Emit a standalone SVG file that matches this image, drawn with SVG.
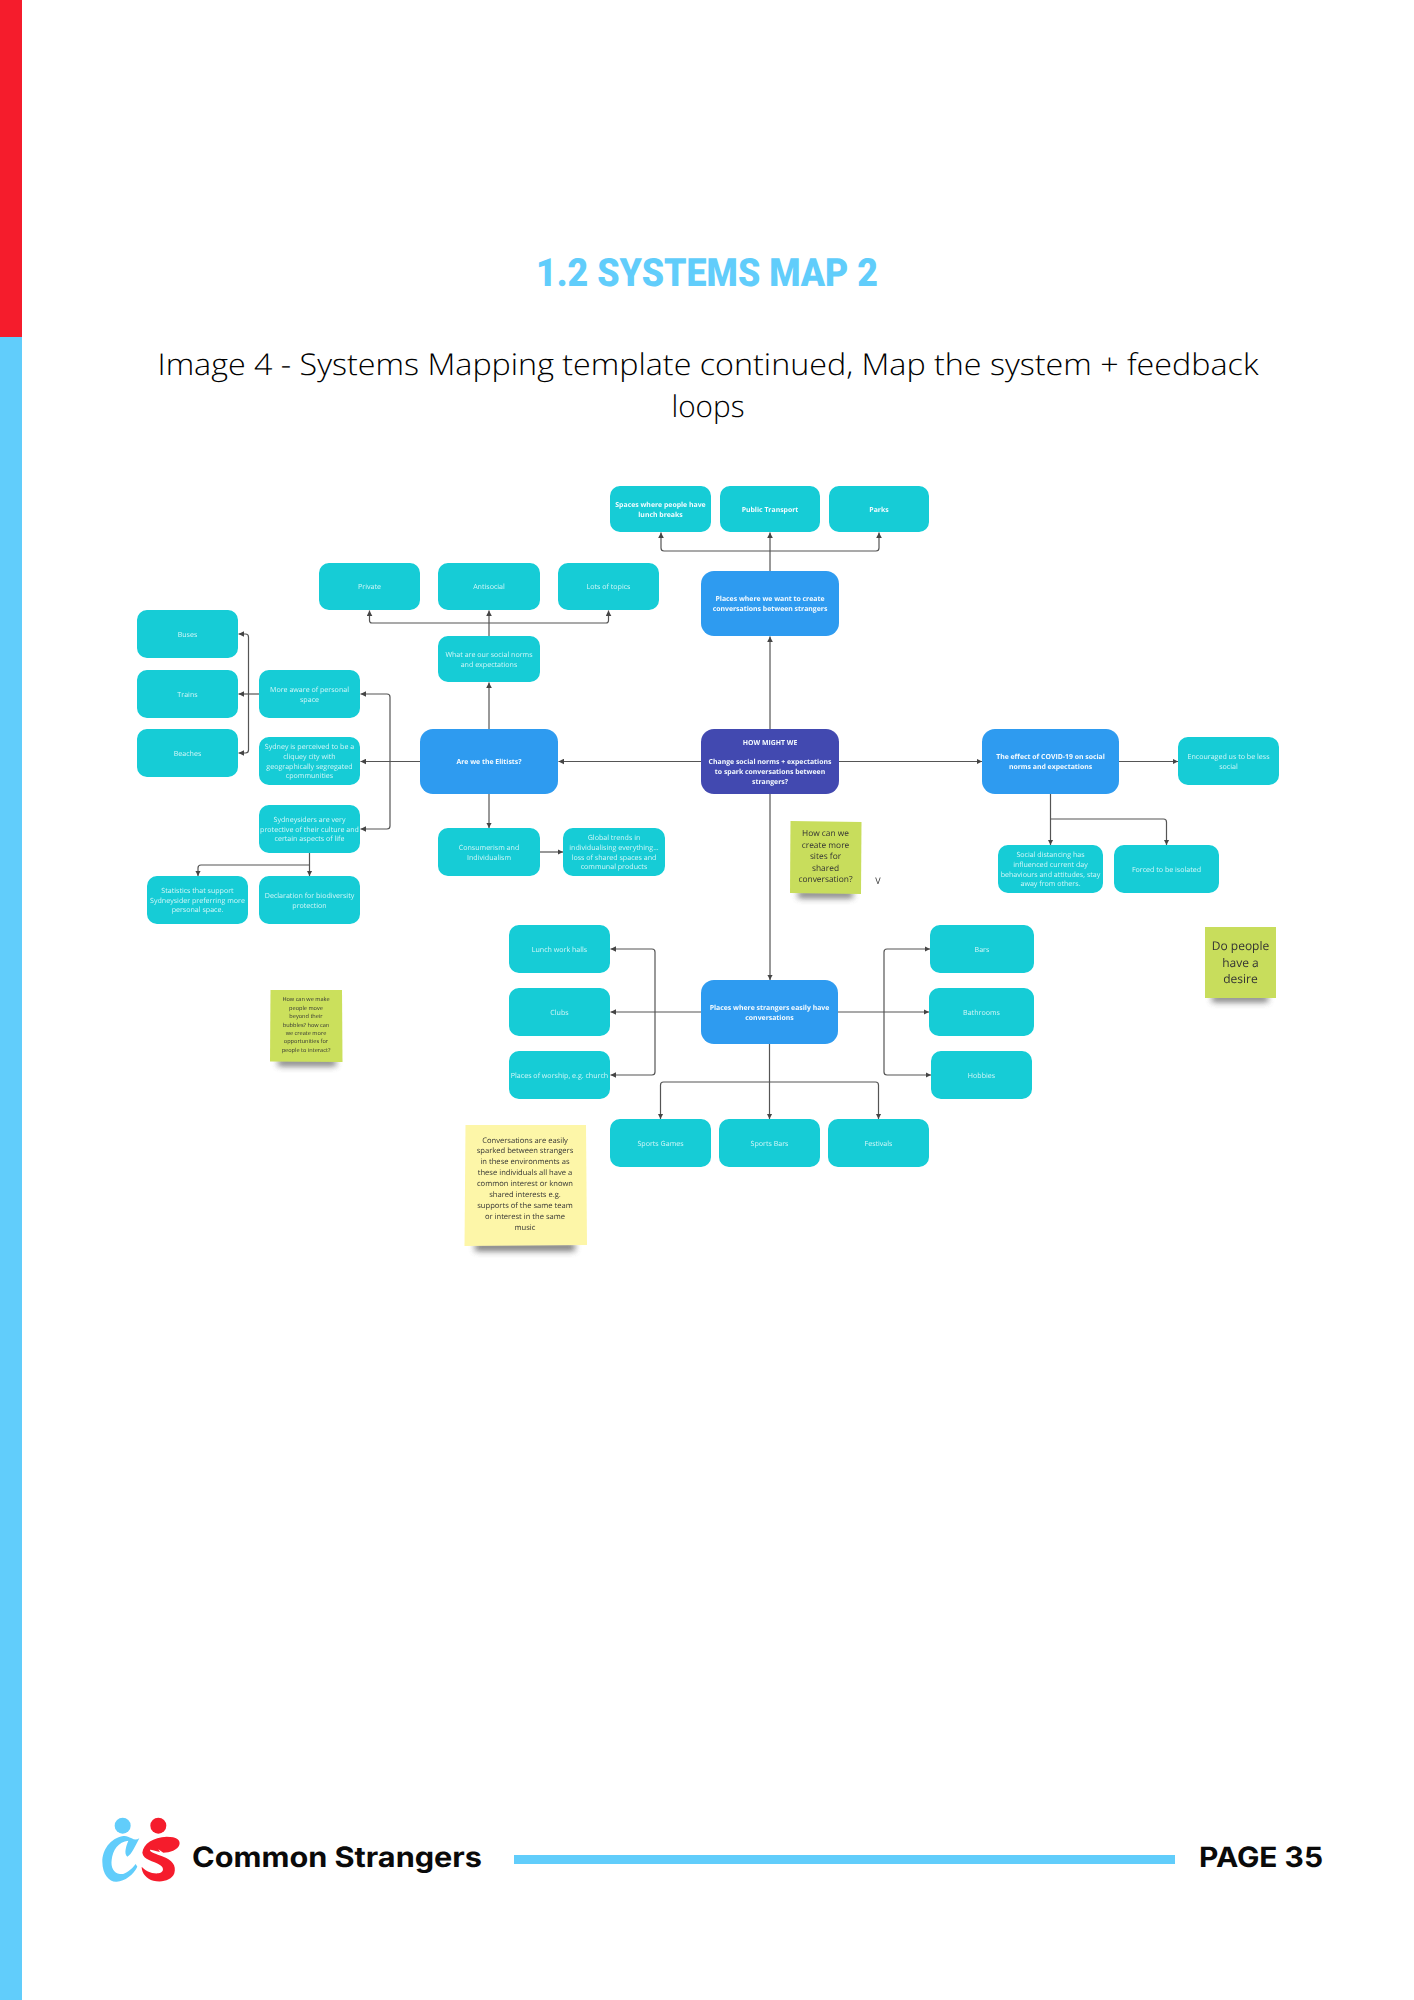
<svg xmlns="http://www.w3.org/2000/svg" width="1414" height="2000" viewBox="0 0 1414 2000">
<style>
text{text-anchor:middle;font-family:"Open Sans","Noto Sans","Liberation Sans",sans-serif;text-rendering:geometricPrecision}
.c rect{fill:#12ccd6}
.b rect{fill:#2e9bf0}
.i rect{fill:#4349b0}
.c text{fill:#d8f7f8;font-size:7.1px}
.b text,.i text,.w text{fill:#f4fbff;font-size:6.9px;font-weight:700}
.w rect{fill:#12ccd6}
.n{fill:#333}
.l{fill:none;stroke:#555;stroke-width:1.2}
.a{marker-end:url(#arr)}
.sh{fill:#555;opacity:.8}
</style>
<defs>
<marker id="arr" markerUnits="userSpaceOnUse" markerWidth="6" markerHeight="6" refX="5.5" refY="3" orient="auto"><path d="M0 0.2L5.5 3L0 5.8Z" fill="#444"/></marker>
<filter id="soft" filterUnits="userSpaceOnUse" x="100" y="460" width="1220" height="820"><feGaussianBlur stdDeviation="0.35"/></filter>
<filter id="shb" x="-30%" y="-300%" width="160%" height="700%"><feGaussianBlur stdDeviation="3.2"/></filter>
</defs>
<rect width="1414" height="2000" fill="#fff"/>
<rect x="0" y="337" width="22" height="1663" fill="#61cdfb"/>
<rect x="0" y="0" width="22" height="337" fill="#f51c2c"/>
<text x="707" y="286" style="font-family:Roboto,'Liberation Sans',sans-serif;font-weight:900;font-size:39px;fill:#61cdfb" textLength="342" lengthAdjust="spacingAndGlyphs">1.2 SYSTEMS MAP 2</text>
<text x="708" y="375" style="font-weight:300;font-size:30px;fill:#000" textLength="1101" lengthAdjust="spacingAndGlyphs">Image 4 - Systems Mapping template continued, Map the system + feedback</text>
<text x="708" y="417" style="font-weight:300;font-size:30px;fill:#000" textLength="73" lengthAdjust="spacingAndGlyphs">loops</text>
<g filter="url(#soft)">
<g id="connectors">
<path class="l a" d="M489 636V610.5"/>
<path class="l a" d="M489 623H372Q369.500 623 369.500 620.500V610.500"/>
<path class="l a" d="M489 623H606Q608.500 623 608.500 620.500V610.500"/>
<path class="l a" d="M489 729V682.500"/>
<path class="l a" d="M701 761.500H558.500"/>
<path class="l a" d="M489 794V828"/>
<path class="l a" d="M540 852H563"/>
<path class="l a" d="M420 761.500H360.500"/>
<path class="l a" d="M390 761.500V697Q390 694 387 694H360.500"/>
<path class="l a" d="M390 761.500V826Q390 829 387 829H360.500"/>
<path class="l a" d="M259 694H238.500"/>
<path class="l a" d="M248.500 694V637Q248.500 634 245.500 634H238.500"/>
<path class="l a" d="M248.500 694V750Q248.500 753 245.500 753H238.500"/>
<path class="l a" d="M309.500 853V876"/>
<path class="l a" d="M309.500 865H201Q198 865 198 868V876"/>
<path class="l a" d="M770 729V636.500"/>
<path class="l a" d="M770 571V532.500"/>
<path class="l a" d="M770 551H664Q661 551 661 548V532.500"/>
<path class="l a" d="M770 551H876Q879 551 879 548V532.500"/>
<path class="l a" d="M839 761.500H982"/>
<path class="l a" d="M1119 761.500H1178"/>
<path class="l a" d="M1050.500 794V845"/>
<path class="l a" d="M1050.500 819H1163.500Q1166.500 819 1166.500 822V845"/>
<path class="l a" d="M770 794V980"/>
<path class="l a" d="M701 1012H610.500"/>
<path class="l a" d="M655 1012V952Q655 949 652 949H610.500"/>
<path class="l a" d="M655 1012V1072Q655 1075 652 1075H610.500"/>
<path class="l a" d="M838 1012H929"/>
<path class="l a" d="M884 1012V952Q884 949 887 949H930"/>
<path class="l a" d="M884 1012V1072Q884 1075 887 1075H931"/>
<path class="l a" d="M769.500 1044V1119"/>
<path class="l a" d="M769.500 1082H663.500Q660.500 1082 660.500 1085V1119"/>
<path class="l a" d="M769.500 1082H875.500Q878.500 1082 878.500 1085V1119"/>
</g>
<g id="private" class="c"><rect x="319" y="563" width="101" height="47" rx="10"/><text x="369.500" y="589">Private</text></g>
<g id="antisocial" class="c"><rect x="438" y="563" width="102" height="47" rx="10"/><text x="489" y="589">Antisocial</text></g>
<g id="lots" class="c"><rect x="558" y="563" width="101" height="47" rx="10"/><text x="608.500" y="589">Lots of topics</text></g>
<g id="norms" class="c"><rect x="438" y="636" width="102" height="46" rx="10"/><text x="489" y="656.900">What are our social norms</text><text x="489" y="666.600">and expectations</text></g>
<g id="buses" class="c"><rect x="137" y="610" width="101" height="48" rx="10"/><text x="187.500" y="636.700">Buses</text></g>
<g id="trains" class="c"><rect x="137" y="670" width="101" height="48" rx="10"/><text x="187.500" y="696.700">Trains</text></g>
<g id="beaches" class="c"><rect x="137" y="729" width="101" height="48" rx="10"/><text x="187.500" y="755.700">Beaches</text></g>
<g id="aware" class="c"><rect x="259" y="670" width="101" height="48" rx="10"/><text x="309.500" y="691.900">More aware of personal</text><text x="309.500" y="701.600">space</text></g>
<g id="cliquey" class="c"><rect x="259" y="737" width="101" height="48" rx="10"/><text x="309.500" y="749.200">Sydney is perceived to be a</text><text x="309.500" y="758.900">cliquey city with</text><text x="309.500" y="768.600">geographically segregated</text><text x="309.500" y="778.300">cpommunities</text></g>
<g id="protective" class="c"><rect x="259" y="805" width="101" height="48" rx="10"/><text x="309.500" y="822">Sydneysiders are very</text><text x="309.500" y="831.700">protective of their culture and</text><text x="309.500" y="841.400">certain aspects of life</text></g>
<g id="statistics" class="c"><rect x="147" y="876" width="101" height="48" rx="10"/><text x="197.500" y="893">Statistics that support</text><text x="197.500" y="902.700">Sydneysider preferring more</text><text x="197.500" y="912.400">personal space.</text></g>
<g id="declaration" class="c"><rect x="259" y="876" width="101" height="48" rx="10"/><text x="309.500" y="897.900">Declaration for biodiversity</text><text x="309.500" y="907.600">protection</text></g>
<g id="elitists" class="b"><rect x="420" y="729" width="138" height="65" rx="13"/><text x="489" y="764.200">Are we the Elitists?</text></g>
<g id="consumerism" class="c"><rect x="438" y="828" width="102" height="48" rx="10"/><text x="489" y="849.900">Consumerism and</text><text x="489" y="859.600">Individualism</text></g>
<g id="global" class="c"><rect x="563" y="828" width="102" height="48" rx="10"/><text x="614" y="840.200">Global trends in</text><text x="614" y="849.900">individualising everything...</text><text x="614" y="859.600">loss of shared spaces and</text><text x="614" y="869.300">communal products</text></g>
<g id="spaces" class="w"><rect x="610" y="486" width="101" height="46" rx="10"/><text x="660.500" y="506.900">Spaces where people have</text><text x="660.500" y="516.600">lunch breaks</text></g>
<g id="transport" class="w"><rect x="720" y="486" width="100" height="46" rx="10"/><text x="770" y="511.700">Public Transport</text></g>
<g id="parks" class="w"><rect x="829" y="486" width="100" height="46" rx="10"/><text x="879" y="511.700">Parks</text></g>
<g id="want" class="b"><rect x="701" y="571" width="138" height="65" rx="13"/><text x="770" y="601">Places where we want to create</text><text x="770" y="610.700">conversations between strangers</text></g>
<g id="hmw" class="i"><rect x="701" y="729" width="138" height="65" rx="13"/><text x="770" y="744.700">HOW MIGHT WE</text><text x="770" y="764.400">Change social norms + expectations</text><text x="770" y="774.100">to spark conversations between</text><text x="770" y="783.800">strangers?</text></g>
<g id="covid" class="b"><rect x="982" y="729" width="137" height="65" rx="13"/><text x="1050.500" y="759.400">The effect of COVID-19 on social</text><text x="1050.500" y="769.100">norms and expectations</text></g>
<g id="encouraged" class="c"><rect x="1178" y="737" width="101" height="48" rx="10"/><text x="1228.500" y="758.900">Encouraged us to be less</text><text x="1228.500" y="768.600">social</text></g>
<g id="distancing" class="c"><rect x="998" y="845" width="105" height="48" rx="10"/><text x="1050.500" y="857.200">Social distancing has</text><text x="1050.500" y="866.900">influenced current day</text><text x="1050.500" y="876.600">behaviours and attitudes, stay</text><text x="1050.500" y="886.300">away from others.</text></g>
<g id="isolated" class="c"><rect x="1114" y="845" width="105" height="48" rx="10"/><text x="1166.500" y="871.700">Forced to be isolated</text></g>
<g id="lunch" class="c"><rect x="509" y="925" width="101" height="48" rx="10"/><text x="559.500" y="951.700">Lunch work halls</text></g>
<g id="clubs" class="c"><rect x="509" y="988" width="101" height="48" rx="10"/><text x="559.500" y="1014.700">Clubs</text></g>
<g id="worship" class="c"><rect x="509" y="1051" width="101" height="48" rx="10"/><text x="559.500" y="1077.700">Places of worship, e.g. church</text></g>
<g id="easily" class="b"><rect x="701" y="980" width="137" height="64" rx="13"/><text x="769.500" y="1009.900">Places where strangers easily have</text><text x="769.500" y="1019.600">conversations</text></g>
<g id="bars" class="c"><rect x="930" y="925" width="104" height="48" rx="10"/><text x="982" y="951.700">Bars</text></g>
<g id="bathrooms" class="c"><rect x="929" y="988" width="105" height="48" rx="10"/><text x="981.500" y="1014.700">Bathrooms</text></g>
<g id="hobbies" class="c"><rect x="931" y="1051" width="101" height="48" rx="10"/><text x="981.500" y="1077.700">Hobbies</text></g>
<g id="games" class="c"><rect x="610" y="1119" width="101" height="48" rx="10"/><text x="660.500" y="1145.700">Sports Games</text></g>
<g id="sportsbars" class="c"><rect x="719" y="1119" width="101" height="48" rx="10"/><text x="769.500" y="1145.700">Sports Bars</text></g>
<g id="festivals" class="c"><rect x="828" y="1119" width="101" height="48" rx="10"/><text x="878.500" y="1145.700">Festivals</text></g>
<g id="note-sites">
<rect class="sh" x="798" y="891" width="55" height="7" filter="url(#shb)"/>
<path d="M790.500 821L861.500 822L861 894L790 893Z" fill="#c8dd5c"/>
<g class="n" style="font-size:8.400px"><text x="825.500" y="836" class="n">How can we</text><text x="825.500" y="847.500" class="n">create more</text><text x="825.500" y="859" class="n">sites for</text><text x="825.500" y="870.500" class="n">shared</text><text x="825.500" y="882" class="n">conversation?</text></g>
</g>
<text x="878" y="883.500" style="font-size:9px;fill:#333">V</text>
<g id="note-desire">
<rect class="sh" x="1212" y="995" width="56" height="7" filter="url(#shb)"/>
<rect x="1205" y="927" width="71" height="71" fill="#c8dd5c"/>
<g class="n" style="font-size:12px"><text x="1240.500" y="950" class="n">Do people</text><text x="1240.500" y="966.500" class="n">have a</text><text x="1240.500" y="983" class="n">desire</text></g>
</g>
<g id="note-bubbles">
<rect class="sh" x="278" y="1059" width="58" height="7" filter="url(#shb)"/>
<path d="M270.500 990L342 990L342.500 1062L270 1061.500Z" fill="#cbe05c"/>
<g class="n" style="font-size:5.600px"><text x="306" y="1001.300" class="n">How can we make</text><text x="306" y="1009.700" class="n">people move</text><text x="306" y="1018" class="n">beyond their</text><text x="306" y="1026.500" class="n">bubbles? how can</text><text x="306" y="1034.800" class="n">we create more</text><text x="306" y="1043.200" class="n">opportunities for</text><text x="306" y="1051.500" class="n">people to interact?</text></g>
</g>
<g id="note-conversations">
<rect class="sh" x="475" y="1243" width="100" height="8" filter="url(#shb)"/>
<path d="M465.500 1125L586 1125L587 1245L464.500 1246Z" fill="#fdf6a8"/>
<g class="n" style="font-size:7.600px"><text x="525" y="1142.500" class="n">Conversations are easily</text><text x="525" y="1153.400" class="n">sparked between strangers</text><text x="525" y="1164.300" class="n">in these environments as</text><text x="525" y="1175.200" class="n">these individuals all have a</text><text x="525" y="1186.100" class="n">common interest or known</text><text x="525" y="1197" class="n">shared interests e.g.</text><text x="525" y="1207.900" class="n">supports of the same team</text><text x="525" y="1218.800" class="n">or interest in the same</text><text x="525" y="1229.700" class="n">music</text></g>
</g>
</g>
<g id="logo" transform="translate(95 1810) scale(.3333)">
<circle cx="83" cy="47" r="24" fill="#61cdfb"/>
<circle cx="190" cy="47" r="24" fill="#f51c2c"/>
<path fill="#61cdfb" d="M85 78C45 85 22 120 22 155C22 195 45 217 65 215C90 213 115 195 127 170L122 162C108 180 90 195 75 192C55 190 47 170 50 150C53 120 70 95 100 92C95 105 85 130 97 140C110 135 122 105 133 85C125 90 118 90 110 85C100 80 95 77 85 78Z"/>
<path fill="#f51c2c" d="M142 128C145 100 175 82 215 80C245 80 258 90 253 105C248 120 225 128 205 128L190 118L195 126C178 124 168 118 165 120C165 128 185 132 205 140C230 150 245 165 238 190C230 212 200 218 175 212C155 207 140 190 140 170C150 182 170 192 190 190C205 188 210 175 195 165C175 152 145 150 142 128Z"/>
</g>
<text x="337" y="1867" style="font-family:Inter,'Liberation Sans',sans-serif;font-weight:700;font-size:28px;fill:#0a0a0a" textLength="290" lengthAdjust="spacingAndGlyphs">Common Strangers</text>
<rect x="514" y="1855" width="661" height="9" fill="#61cdfb"/>
<text x="1261" y="1867" style="font-family:Inter,'Liberation Sans',sans-serif;font-weight:700;font-size:28px;fill:#0a0a0a" textLength="124" lengthAdjust="spacingAndGlyphs">PAGE 35</text>
</svg>
